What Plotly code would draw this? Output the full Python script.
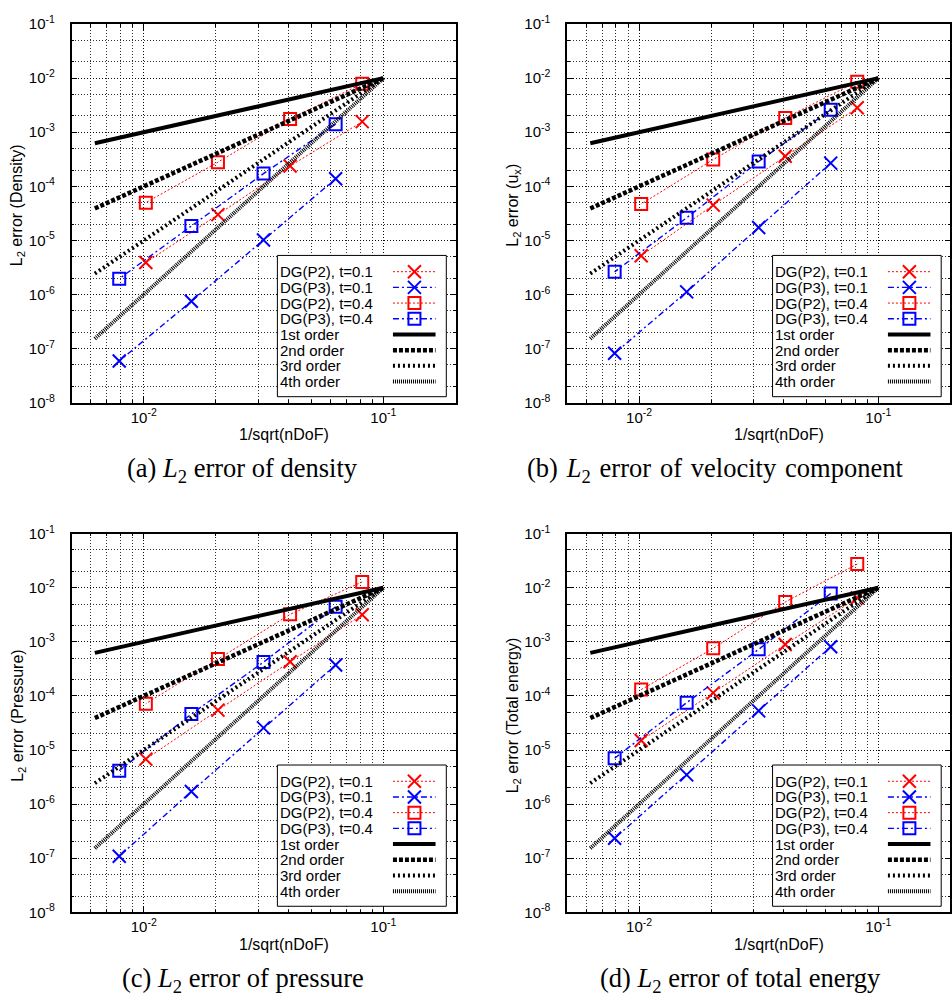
import math
import plotly.graph_objects as go

W, H = 952, 1005

# ---------------- data ----------------
x_p2 = [0.0816, 0.0408, 0.0204, 0.0102]
x_p3 = [0.0632, 0.0316, 0.0158, 0.0079]

dens_p2_t01 = [1.57e-3, 2.37e-4, 3.0e-5, 3.9e-6]
dens_p3_t01 = [1.38e-4, 1.02e-5, 7.5e-7, 5.9e-8]
dens_p2_t04 = [7.9e-3, 1.76e-3, 2.8e-4, 5.0e-5]
dens_p3_t04 = [1.41e-3, 1.72e-4, 1.85e-5, 1.96e-6]

velx_p2_t01 = [2.83e-3, 3.6e-4, 4.5e-5, 5.2e-6]
velx_p3_t01 = [2.69e-4, 1.73e-5, 1.12e-6, 8.2e-8]
velx_p2_t04 = [8.6e-3, 1.84e-3, 3.13e-4, 4.7e-5]
velx_p3_t04 = [2.6e-3, 2.88e-4, 2.62e-5, 2.63e-6]

pres_p2_t01 = [3.17e-3, 4.28e-4, 5.46e-5, 6.8e-6]
pres_p3_t01 = [3.72e-4, 2.57e-5, 1.71e-6, 1.09e-7]
pres_p2_t04 = [1.28e-2, 3.22e-3, 4.79e-4, 7.2e-5]
pres_p3_t04 = [4.43e-3, 4.22e-4, 4.62e-5, 4.16e-6]

ener_p2_t01 = [6.5e-3, 8.95e-4, 1.14e-4, 1.5e-5]
ener_p3_t01 = [8.1e-4, 5.3e-5, 3.47e-6, 2.34e-7]
ener_p2_t04 = [2.74e-2, 5.46e-3, 7.57e-4, 1.31e-4]
ener_p3_t04 = [7.84e-3, 7.26e-4, 7.5e-5, 7.06e-6]

order_x = [0.00625, 0.1]
order1_y = [6.25e-4, 1.0e-2]
order2_y = [3.9e-5, 1.0e-2]
order3_y = [2.44e-6, 1.0e-2]
order4_y = [1.53e-7, 1.0e-2]

series_names = ["DG(P2), t=0.1", "DG(P3), t=0.1", "DG(P2), t=0.4", "DG(P3), t=0.4"]
order_names = ["1st order", "2nd order", "3rd order", "4th order"]

y_titles = ["L<sub>2</sub> error (Density)",
            "L<sub>2</sub> error (u<sub>x</sub>)",
            "L<sub>2</sub> error (Pressure)",
            "L<sub>2</sub> error (Total energy)"]
HS = "\u200a"  # hair space (caption line in the reference is slightly stretched)
captions = ["(a) <i>L</i><sub>2</sub> error of density",
            f"(b) {HS}<i>L</i><sub>2</sub> {HS}error {HS}of {HS}velocity {HS}component",
            "(c) <i>L</i><sub>2</sub> error of pressure",
            "(d) <i>L</i><sub>2</sub> error of total energy"]
x_title = "1/sqrt(nDoF)"

xtick_vals = [0.01, 0.1]
xtick_text = ["10<sup>-2</sup>", "10<sup>-1</sup>"]
ytick_vals = [1e-8, 1e-7, 1e-6, 1e-5, 1e-4, 1e-3, 1e-2, 1e-1]
ytick_text = ["10<sup>-8</sup>", "10<sup>-7</sup>", "10<sup>-6</sup>", "10<sup>-5</sup>",
              "10<sup>-4</sup>", "10<sup>-3</sup>", "10<sup>-2</sup>", "10<sup>-1</sup>"]

panels = [
    [dens_p2_t01, dens_p3_t01, dens_p2_t04, dens_p3_t04],
    [velx_p2_t01, velx_p3_t01, velx_p2_t04, velx_p3_t04],
    [pres_p2_t01, pres_p3_t01, pres_p2_t04, pres_p3_t04],
    [ener_p2_t01, ener_p3_t01, ener_p2_t04, ener_p3_t04],
]
series_x = [x_p2, x_p3, x_p2, x_p3]
order_ys = [order1_y, order2_y, order3_y, order4_y]

# ---------------- styles ----------------
RED, BLUE = "#ff0000", "#0000ff"
RED_DASH = "2px,2px"
BLUE_DASH = "6px,3px,2px,3px"
series_styles = [
    dict(color=RED, dash=RED_DASH, width=1.0, symbol="x-thin-open", size=13),
    dict(color=BLUE, dash=BLUE_DASH, width=1.4, symbol="x-thin-open", size=13),
    dict(color=RED, dash=RED_DASH, width=1.0, symbol="square-open", size=12),
    dict(color=BLUE, dash=BLUE_DASH, width=1.4, symbol="square-open", size=12),
]
order_styles = [
    dict(width=4.0, dash="solid"),
    dict(width=4.5, dash="4px,2px"),
    dict(width=4.0, dash="2px,3px"),
    dict(width=4.0, dash="1px,1px"),
]

SANS = "Liberation Sans, Arial, Helvetica, sans-serif"
SERIF = "Liberation Serif, Times New Roman, serif"

# plot-area rectangles in pixels: (left, top, right, bottom)
rects = [
    (71.7, 13.3, 456.0, 399.3),
    (567.7, 13.3, 951.4, 399.3),
    (71.7, 532.7, 456.0, 918.7),
    (567.7, 532.7, 951.4, 918.7),
]
caption_cx = [243, 715.5, 243, 741]

fig = go.Figure()

for i in range(4):
    xs = "x" if i == 0 else f"x{i+1}"
    ys = "y" if i == 0 else f"y{i+1}"
    for j in range(4):
        st = series_styles[j]
        fig.add_trace(go.Scatter(
            x=series_x[j], y=panels[i][j], xaxis=xs, yaxis=ys,
            mode="lines+markers", name=series_names[j], showlegend=False,
            line=dict(color=st["color"], dash=st["dash"], width=st["width"]),
            marker=dict(symbol=st["symbol"], size=st["size"], color=st["color"],
                        line=dict(color=st["color"], width=2)),
        ))
    for k in range(4):
        st = order_styles[k]
        fig.add_trace(go.Scatter(
            x=order_x, y=order_ys[k], xaxis=xs, yaxis=ys,
            mode="lines", name=order_names[k], showlegend=False,
            line=dict(color="black", dash=st["dash"], width=st["width"]),
        ))

GRID = dict(showgrid=True, gridcolor="rgba(0,0,0,0.8)", griddash="1px,2px", gridwidth=1)

layout = dict(
    width=W, height=H, margin=dict(l=0, r=0, t=0, b=0),
    paper_bgcolor="white", plot_bgcolor="white", showlegend=False,
    font=dict(family=SANS, size=15, color="black"),
)

annotations = []
shapes = []

for i in range(4):
    L, T, R, B = rects[i]
    xkey = "xaxis" if i == 0 else f"xaxis{i+1}"
    ykey = "yaxis" if i == 0 else f"yaxis{i+1}"
    xa = "x" if i == 0 else f"x{i+1}"
    ya = "y" if i == 0 else f"y{i+1}"
    layout[xkey] = dict(
        type="log", range=[math.log10(0.005), math.log10(0.2)],
        domain=[L / W, R / W], anchor=ya,
        tickmode="array", tickvals=xtick_vals, ticktext=xtick_text,
        ticks="inside", ticklen=6, tickwidth=1, tickcolor="black",
        showline=True, linecolor="black", linewidth=1.5, mirror="allticks",
        zeroline=False, tickfont=dict(family=SANS, size=15),
        ticklabelstandoff=0,
        minor=dict(dtick="D1", ticks="inside", ticklen=3, tickcolor="black", **GRID),
        **GRID,
    )
    layout[ykey] = dict(
        type="log", range=[-8, -1],
        domain=[1 - B / H, 1 - T / H], anchor=xa,
        tickmode="array", tickvals=ytick_vals, ticktext=ytick_text,
        ticks="inside", ticklen=6, tickwidth=1, tickcolor="black",
        showline=True, linecolor="black", linewidth=1.5, mirror="allticks",
        zeroline=False, tickfont=dict(family=SANS, size=15),
        ticklabelstandoff=12,
        minor=dict(dtick="D2", ticks="inside", ticklen=3, tickcolor="black", **GRID),
        **GRID,
    )

    cy = (T + B) / 2
    # x-axis title
    annotations.append(dict(
        text=x_title, xref="paper", yref="paper",
        x=(L + 212.3) / W, y=1 - (B + 32.4) / H,
        xanchor="center", yanchor="middle", showarrow=False,
        font=dict(family=SANS, size=16)))
    # y-axis title
    annotations.append(dict(
        text=y_titles[i], xref="paper", yref="paper",
        x=(L - 54.0) / W, y=1 - (cy - 8) / H, textangle=-90,
        xanchor="center", yanchor="middle", showarrow=False,
        font=dict(family=SANS, size=16)))
    # caption
    annotations.append(dict(
        text=captions[i], xref="paper", yref="paper",
        x=caption_cx[i] / W, y=1 - (B + 69.0) / H,
        xanchor="center", yanchor="middle", showarrow=False,
        font=dict(family=SERIF, size=26.5)))

    # ---- key box (gnuplot style: text left, sample right) ----
    xd = f"{xa} domain"
    yd = f"{ya} domain"
    box_l, box_r, box_b, box_t = 0.536, 0.976, 0.016, 0.389
    shapes.append(dict(type="rect", xref=xd, yref=yd, x0=box_l, x1=box_r, y0=box_b, y1=box_t,
                       fillcolor="white", line=dict(color="black", width=1), layer="above"))
    ph = B - T
    s0, s1, sm = 0.837, 0.948, 0.893
    entries = [(series_names[j], "s", j) for j in range(4)] + [(order_names[k], "o", k) for k in range(4)]
    for r, (name, kind, idx) in enumerate(entries):
        yr = 1 - (252.4 + 16.0 * r) / ph
        annotations.append(dict(
            text=name, xref=xd, yref=yd, x=box_l + 0.001, y=yr,
            xanchor="left", yanchor="middle", showarrow=False,
            font=dict(family=SANS, size=15)))
        if kind == "s":
            st = series_styles[idx]
            shapes.append(dict(type="line", xref=xd, yref=yd, x0=s0, x1=s1, y0=yr, y1=yr,
                               line=dict(color=st["color"], dash=st["dash"], width=st["width"]),
                               layer="above"))
            if st["symbol"].startswith("x"):
                for a, b in ((-6.5, 6.5), (6.5, -6.5)):
                    shapes.append(dict(type="line", xref=xd, yref=yd,
                                       xsizemode="pixel", ysizemode="pixel",
                                       xanchor=sm, yanchor=yr, x0=-6.5, x1=6.5, y0=a, y1=b,
                                       line=dict(color=st["color"], width=2), layer="above"))
            else:
                shapes.append(dict(type="rect", xref=xd, yref=yd,
                                   xsizemode="pixel", ysizemode="pixel",
                                   xanchor=sm, yanchor=yr, x0=-6, x1=6, y0=-6, y1=6,
                                   fillcolor="rgba(0,0,0,0)",
                                   line=dict(color=st["color"], width=2), layer="above"))
        else:
            st = order_styles[idx]
            shapes.append(dict(type="line", xref=xd, yref=yd, x0=s0, x1=s1, y0=yr, y1=yr,
                               line=dict(color="black", dash=st["dash"], width=st["width"]),
                               layer="above"))

layout["annotations"] = annotations
layout["shapes"] = shapes
fig.update_layout(**layout)

fig.write_html("out.html", config={"displayModeBar": False, "responsive": False},
               post_script="document.body.style.margin='0px';document.body.style.overflow='hidden';")
